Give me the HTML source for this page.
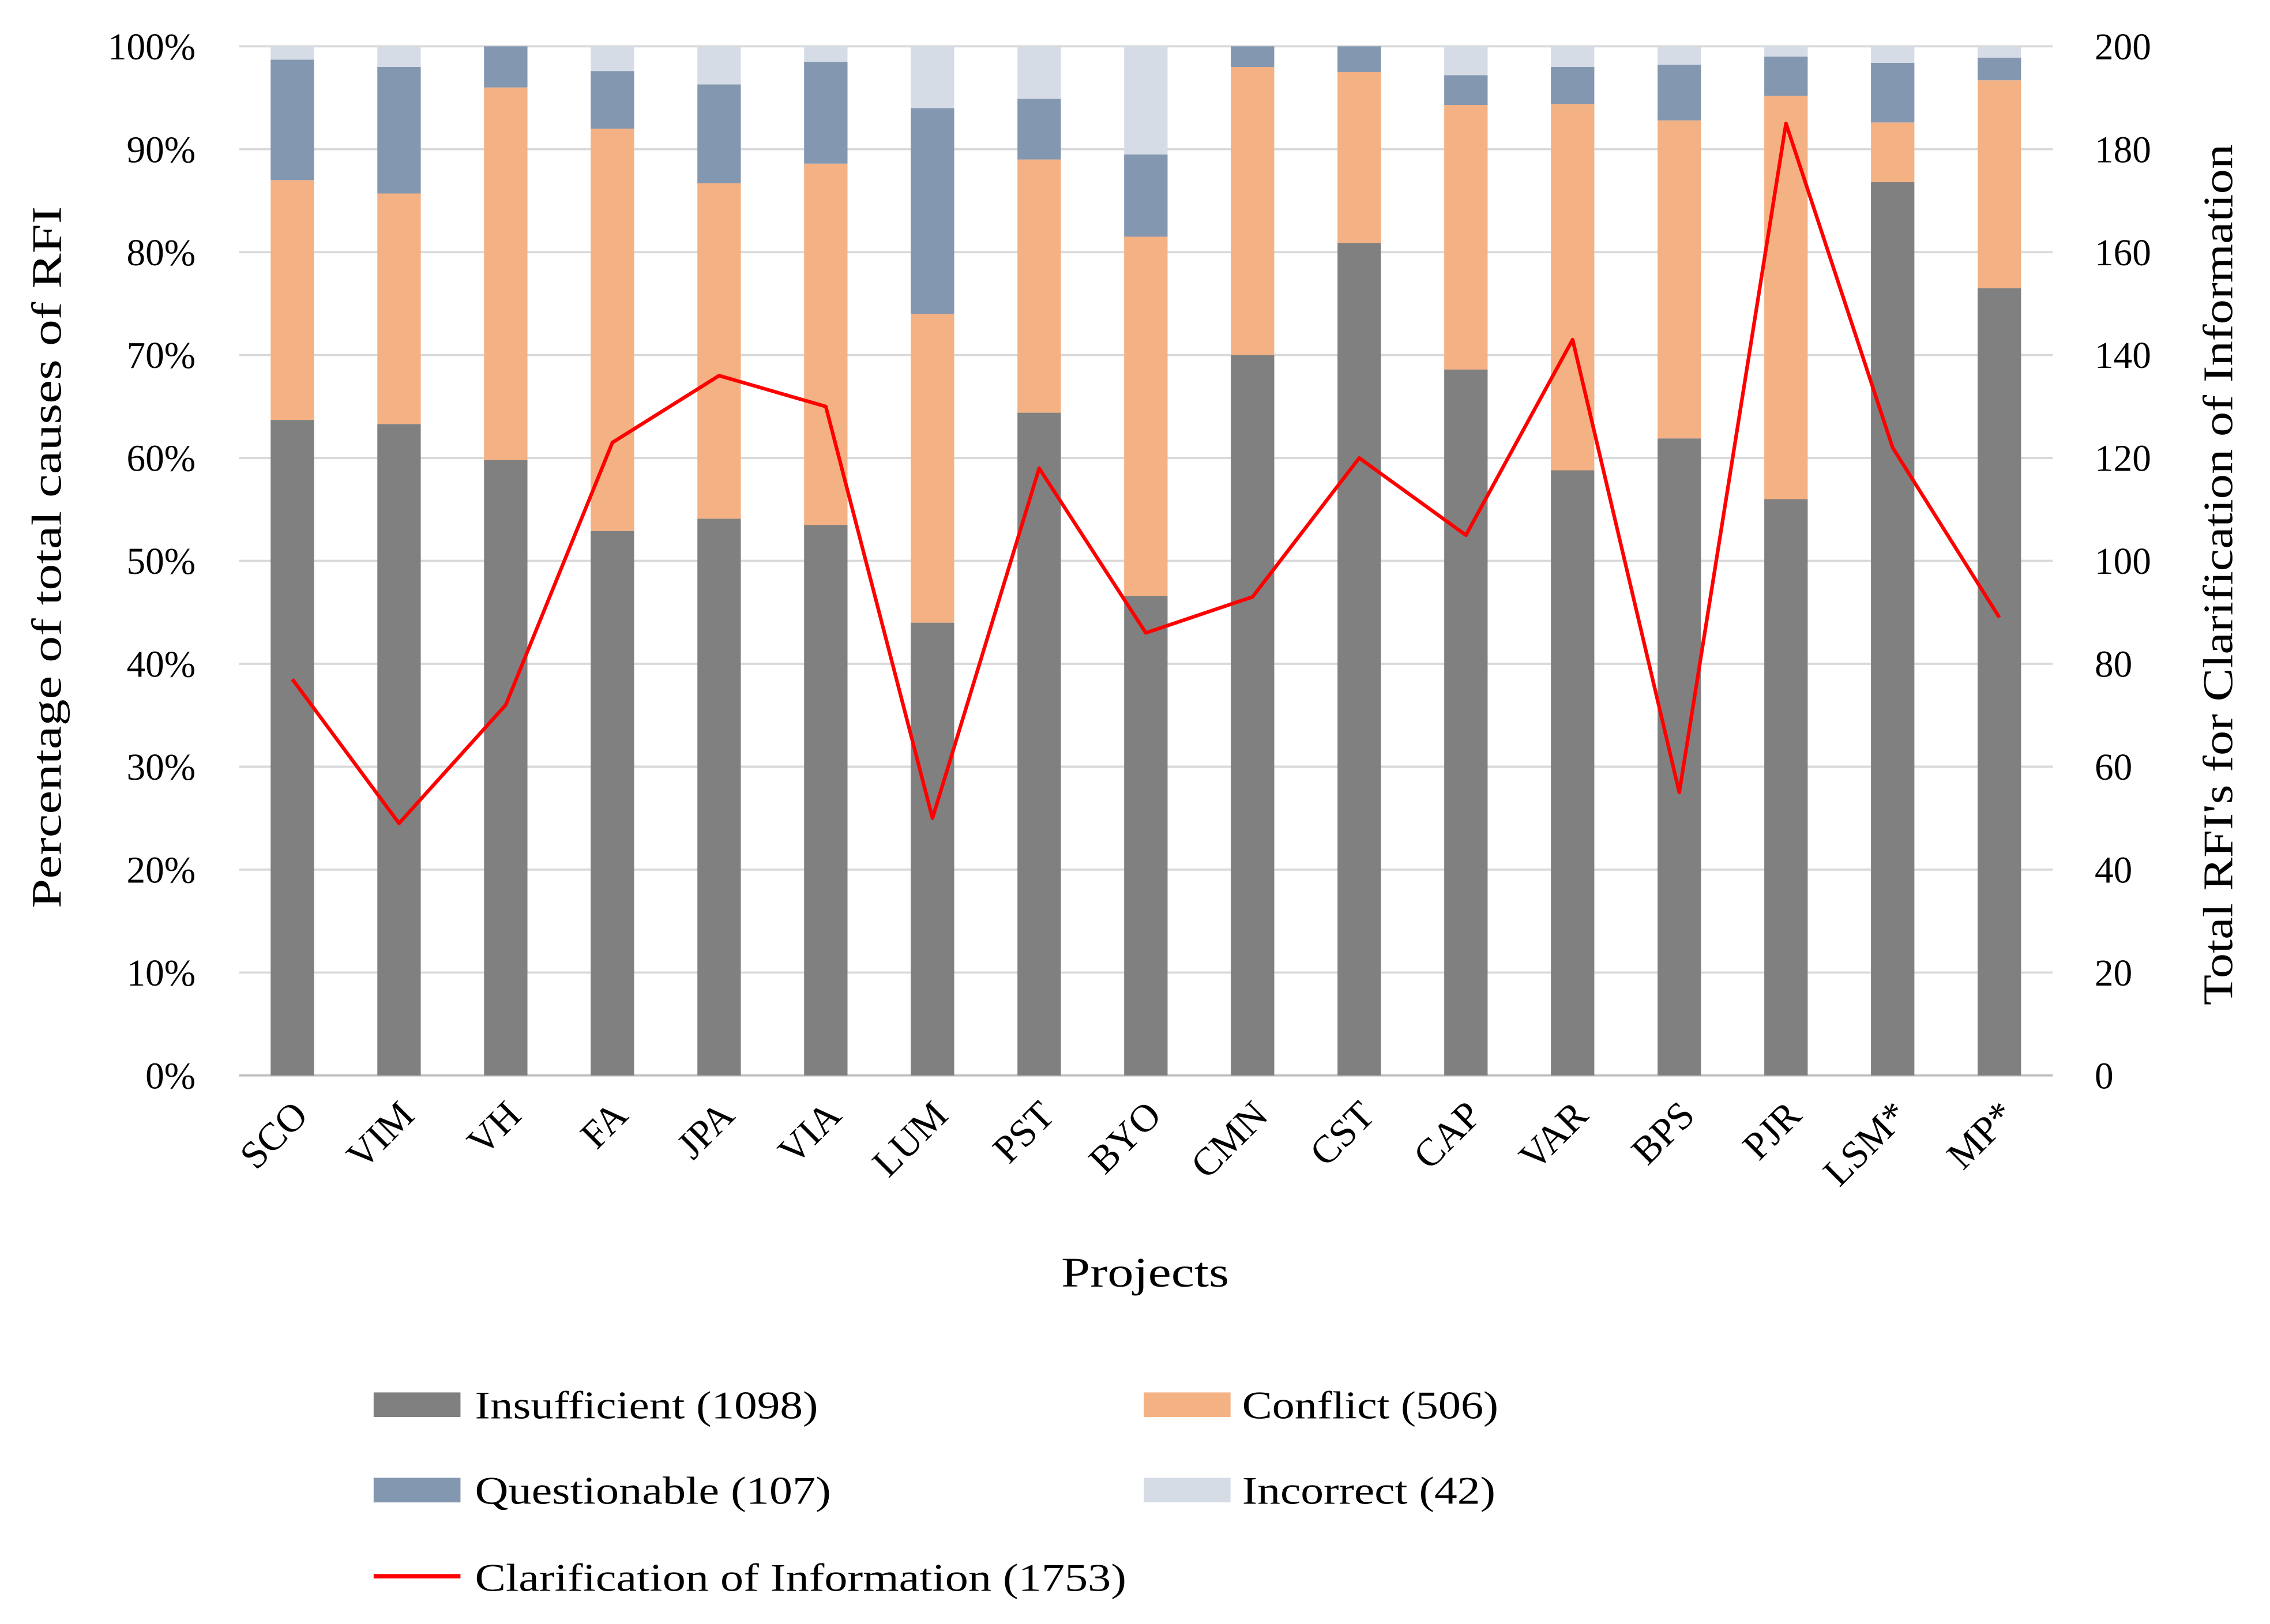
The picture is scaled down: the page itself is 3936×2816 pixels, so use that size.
<!DOCTYPE html>
<html><head><meta charset="utf-8"><style>
html,body{margin:0;padding:0;background:#fff}
svg{display:block}
text{font-family:"Liberation Serif",serif;fill:#000}
</style></head><body>
<svg id="chart" width="3936" height="2816" viewBox="0 0 1568 1122" xmlns="http://www.w3.org/2000/svg">
<g id="grid"></g>
<g id="bars"></g>
<g id="line"></g>
<g id="axes"></g>
<text transform="translate(42,385) rotate(-90)" text-anchor="middle" font-size="29" textLength="485" lengthAdjust="spacingAndGlyphs">Percentage of total causes of RFI</text>
<text transform="translate(1542,397) rotate(-90)" text-anchor="middle" font-size="29" textLength="595" lengthAdjust="spacingAndGlyphs">Total RFI's for Clarification of Information</text>
<text x="791" y="889" text-anchor="middle" font-size="29" textLength="116" lengthAdjust="spacingAndGlyphs">Projects</text>
<g>
  <g><rect x="258" y="962" width="60" height="17" fill="#808080"/><text x="328" y="980" font-size="27" textLength="237" lengthAdjust="spacingAndGlyphs">Insufficient (1098)</text></g>
  <g><rect x="790" y="962" width="60" height="17" fill="#F4B183"/><text x="858" y="980" font-size="27" textLength="177" lengthAdjust="spacingAndGlyphs">Conflict (506)</text></g>
  <g><rect x="258" y="1021" width="60" height="17" fill="#8497B0"/><text x="328" y="1039" font-size="27" textLength="246" lengthAdjust="spacingAndGlyphs">Questionable (107)</text></g>
  <g><rect x="790" y="1021" width="60" height="17" fill="#D6DCE5"/><text x="858" y="1039" font-size="27" textLength="175" lengthAdjust="spacingAndGlyphs">Incorrect (42)</text></g>
  <g><line x1="258" y1="1089" x2="318" y2="1089" stroke="#FF0000" stroke-width="3"/><text x="328" y="1099" font-size="27" textLength="450" lengthAdjust="spacingAndGlyphs">Clarification of Information (1753)</text></g>
</g>
</svg>
<script>
const categories=["SCO","VIM","VH","FA","JPA","VIA","LUM","PST","BYO","CMN","CST","CAP","VAR","BPS","PJR","LSM*","MP*"];
const insufficient=[63.7,63.3,59.8,52.9,54.1,53.5,44,64.4,46.6,70,80.9,68.6,58.8,61.9,56,86.8,76.5];
const conflict=[23.3,22.4,36.2,39.1,32.6,35.1,30,24.6,34.9,28,16.6,25.7,35.6,30.9,39.2,5.8,20.2];
const questionable=[11.7,12.3,4,5.6,9.6,9.9,20,5.9,8,2,2.5,2.9,3.6,5.4,3.8,5.8,2.2];
const incorrect=[1.3,2,0,2.4,3.7,1.5,6,5.1,10.5,0,0,2.8,2,1.8,1,1.6,1.1];
const clarification=[77,49,72,123,136,130,50,118,86,93,120,105,143,55,185,122,89];
const leftTicks=["0%","10%","20%","30%","40%","50%","60%","70%","80%","90%","100%"];
const rightTicks=["0","20","40","60","80","100","120","140","160","180","200"];
const NS="http://www.w3.org/2000/svg";
const L=165,R=1418,T=32,B=743;
const band=(R-L)/categories.length;
const xc=i=>L+band*(i+0.5);
const yP=v=>B-(B-T)*v/100;
const yR=v=>B-(B-T)*v/200;
function mk(tag,attrs,parent){const e=document.createElementNS(NS,tag);for(const k in attrs)e.setAttribute(k,attrs[k]);parent.appendChild(e);return e;}
const grid=document.getElementById('grid'),axes=document.getElementById('axes'),bars=document.getElementById('bars'),lineG=document.getElementById('line');
leftTicks.forEach((t,i)=>{
  const y=yP(i*10);
  const g=mk('line',{x1:L,x2:R,y1:y,y2:y,stroke:i===0?'#BFBFBF':'#D9D9D9','stroke-width':1.5},grid);
  
  
  const tl=mk('text',{x:135,y:y+9,'text-anchor':'end','font-size':26},axes);tl.textContent=t;
  
  
});
rightTicks.forEach((t,i)=>{
  const y=yR(+t);
  const tl=mk('text',{x:1447,y:y+9,'text-anchor':'start','font-size':26},axes);tl.textContent=t;
  
  
});
const series=[[insufficient,'#808080','insufficient'],[conflict,'#F4B183','conflict'],[questionable,'#8497B0','questionable'],[incorrect,'#D6DCE5','incorrect']];
const bw=30;
categories.forEach((c,i)=>{
  let acc=0;
  series.forEach(([arr,col,nm])=>{
    const v=arr[i];if(v<=0)return;
    const y1=yP(acc+v),y0=yP(acc);acc+=v;
    const r=mk('rect',{x:xc(i)-bw/2,y:y1,width:bw,height:y0-y1,fill:col},bars);
    
    
  });
  const t=mk('text',{transform:`translate(${xc(i)+12},${772}) rotate(-45)`,'text-anchor':'end','font-size':27},axes);t.textContent=c;
  
  
});
const pts=clarification.map((v,i)=>xc(i)+','+yR(v)).join(' ');
const pl=mk('polyline',{points:pts,fill:'none',stroke:'#FF0000','stroke-width':2.5,'stroke-linejoin':'round'},lineG);


</script>
</body></html>
